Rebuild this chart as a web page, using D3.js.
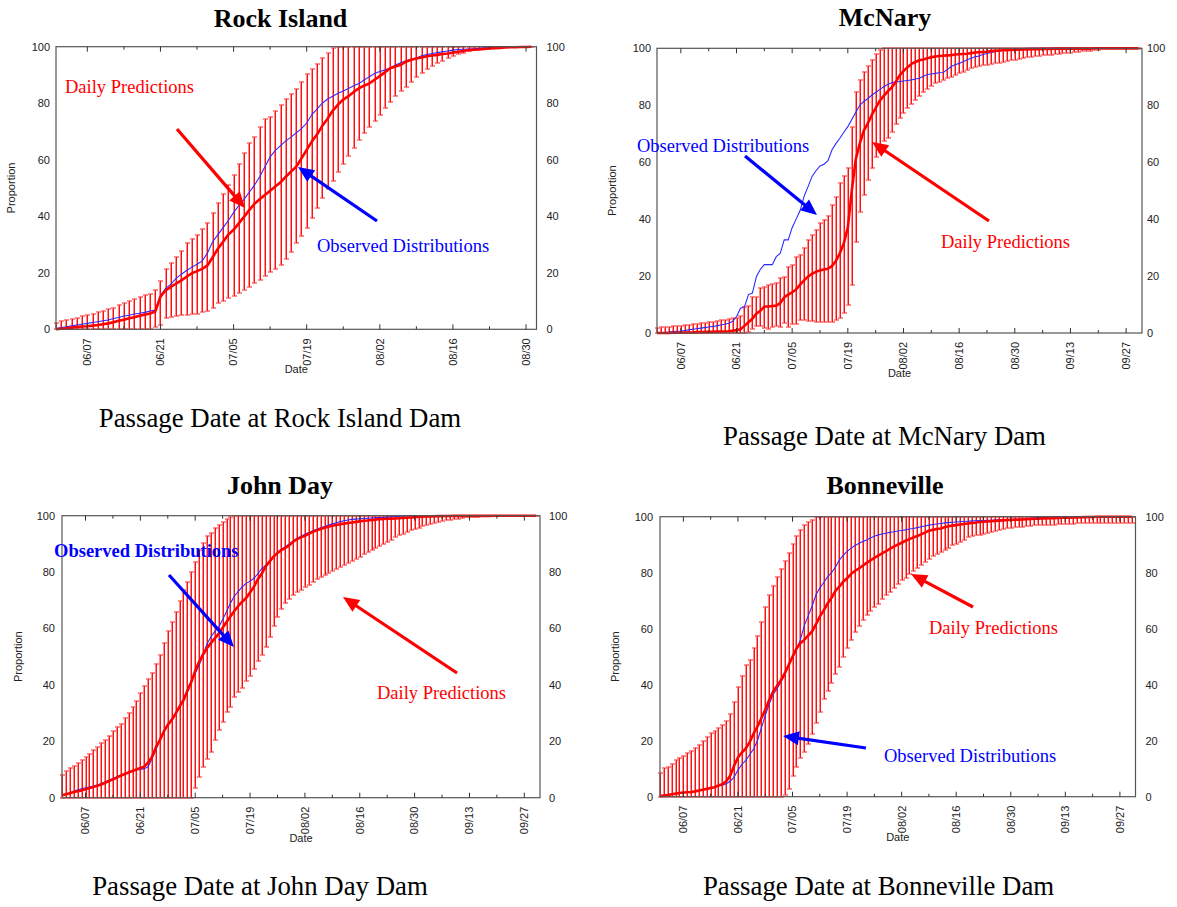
<!DOCTYPE html>
<html><head><meta charset="utf-8">
<script src="https://cdn.jsdelivr.net/npm/d3@7"></script>
<style>body{margin:0;background:#fff}svg{display:block}</style>
</head><body>
<svg id="c" width="1177" height="907"></svg>
<script>
// ---------------- DATA ----------------
const seasonStart = "2002-06-01";
const rockEnd = "2002-09-01";
const seasonEnd = "2002-10-01";
const rockTicks = ["06/07","06/21","07/05","07/19","08/02","08/16","08/30"];
const seasonTicks = ["06/07","06/21","07/05","07/19","08/02","08/16","08/30","09/13","09/27"];
const yTicks = [0,20,40,60,80,100];

// Rock Island (daily from 06/01)
const rockObs = [0.3,0.6,0.9,1.2,1.5,1.8,2.1,2.4,2.7,3,
 3.3,3.8,4.2,4.7,5,5.4,5.7,6,6.5,6.8,
 12,14.5,16,18,19.5,20.8,22,23,24.2,27,
 31,33.5,36,38.5,41.3,43.8,46,48.5,51,54,
 57.5,61,63.3,65,66.7,68,69.5,71,73,76,
 78,80,81.5,82.5,83.5,84.3,85.2,86.2,87,88.2,
 89.4,90.5,91.2,91.8,92.5,93.5,94.3,95,95.5,96,
 96.8,97.2,97.6,97.9,98.2,98.5,98.8,99,99.1,99.2,
 99.3,99.4,99.6,99.8,100,100,100,100,100,100,
 100,100];
const rockMean = [0,0.2,0.4,0.6,0.8,1,1.1,1.3,1.5,1.8,
 2.1,2.5,3,3.4,3.9,4.3,4.8,5.2,5.6,6.3,
 11.5,13.8,15,16.2,17.3,18.6,19.8,20.6,21.4,22.6,
 25.5,28.5,31,33.5,35.2,37.5,39.8,42.2,44.4,46,
 47.5,49,50.5,52,54,55.8,57.5,60.5,63.5,66.5,
 69,72,74.5,77.4,79.5,81.3,82.5,84,85.3,86.2,
 87,88.3,89.6,91,92.4,93,93.6,94.7,95.4,95.8,
 96.2,96.6,96.9,97.1,97.4,97.6,97.9,98.2,98.5,98.8,
 98.9,99,99.2,99.4,99.5,99.6,99.7,99.8,99.8,99.9,
 99.9,100];
const rockLo = [0,0,0,0,0,0,0,0,0,0,
 0,0,0,0,0,0,0,0,0,0.8,
 1.5,3.9,4.3,4.6,5,5.1,5.3,5.5,6,6.5,
 7.5,9.2,10.1,11,11.8,12.7,13.9,14.8,16.3,17.5,
 18.8,20.4,21.5,22.8,25,27.2,30.5,33,36,39.5,
 43,46.5,49.5,52.5,55.5,58.5,61.3,64,67,69.5,
 71.5,73.8,76,78.2,80.5,82.5,84.2,85.9,87.5,89.2,
 90.6,92,93.2,94.2,95.1,95.9,96.6,97.3,97.9,98.5,
 98.8,99.1,99.3,99.5,99.6,99.7,99.8,99.85,99.9,99.9,
 99.9,99.9];
const rockHi = [2.4,2.8,3.2,3.8,4.1,4.6,5,5.5,6,6.5,
 7.1,7.7,8.5,9.2,10,10.7,11.5,12,12.5,14,
 17.2,21.2,23.6,25.7,27.8,30.7,31.8,33.4,35.4,37.5,
 41.3,44.6,47.9,51.1,54.6,58.5,62.3,65.8,68.2,71.5,
 74.3,75.2,77.4,79.4,81.4,83.3,85,87.6,90.3,92,
 94,96,97.8,99.5,100,100,100,100,100,100,
 100,100,100,100,100,100,100,100,100,100,
 100,100,100,100,100,100,100,100,100,100,
 100,100,100,100,100,100,100,100,100,100,
 100,100];

// McNary
const mcObs = [0,0.1,0.2,0.3,0.5,0.6,0.7,0.9,1.1,1.3,
 1.5,1.7,1.9,2.1,2.3,2.5,2.8,3.1,3.4,4,
 5.7,8.7,9.2,13.5,14,19.8,22.4,24,24,24,
 26.8,28,32.7,32.7,37,40,43,48,51.4,55,
 57,58.7,59.3,60.5,64.3,66.5,68.4,70.5,72.5,75,
 77.5,80,81.3,82.3,83.5,84.5,85.5,86.5,87.3,87.9,
 88.2,88.3,88.5,88.7,88.9,89.2,89.5,90.2,90.8,91,
 91.2,91.4,91.5,92.5,93.6,94.2,94.7,95.3,96,96.5,
 97,97.3,97.8,98.2,98.5,98.8,99,99.2,99.4,99.6,
 99.7,99.8,99.9,100,100,100,100,100,100,100,
 100,100,100,100,100,100,100,100,100,100,
 100,100,100,100,100,100,100,100,100,100,100,100];
const mcMean = [0,0,0,0,0.1,0.1,0.1,0.2,0.2,0.2,
 0.3,0.3,0.3,0.4,0.4,0.5,0.5,0.5,0.6,0.8,
 1,1.3,2.5,3.8,5,6.8,7.8,9.3,9.3,9.5,
 9.6,10.5,12.5,13.5,14.3,15.3,17,18.5,19.8,20.8,
 21.5,22,22.3,22.6,23.5,25.3,28,31.5,37,50,
 61,66.5,71,73.5,76.5,79,81.5,83.2,84.8,86.2,
 88,90.4,92,93.3,94.5,95.2,95.8,96.1,96.5,96.9,
 97.1,97.3,97.4,97.5,97.6,97.8,97.9,98,98.1,98.3,
 98.5,98.6,98.7,98.8,99,99.1,99.2,99.3,99.3,99.4,
 99.5,99.5,99.6,99.6,99.7,99.7,99.7,99.8,99.8,99.8,
 99.9,99.9,99.9,99.9,99.9,99.9,99.9,99.9,99.9,99.9,
 100,100,100,100,100,100,100,100,100,100,100,100];
const mcLo = [0,0,0,0,0,0,0,0,0,0,
 0,0,0,0,0,0,0,0,0,0,
 0,0,0,0.5,1.5,2.5,2.6,1.9,1.4,2,
 2.5,2.2,3.4,2.2,3,3.2,4.6,4.5,4.3,4.2,
 4,3.9,3.8,3.7,3.7,4.5,5.2,6.9,9.8,16.9,
 32,42.6,48.5,53.7,57.8,61.9,63.5,67.5,68.5,70.7,
 73.5,75.4,77.3,79,80.5,82,83.4,84.6,85.8,86.8,
 87.7,88.3,88.9,89.5,90,90.6,91.2,91.8,92.4,93,
 93.3,93.7,94.1,94.3,94.5,94.7,95,95.3,95.5,95.8,
 96,96.3,96.5,96.8,97,97.2,97.4,97.6,97.7,97.8,
 98,98.1,98.2,98.4,98.5,98.7,98.8,98.9,99.1,99.2,
 99.3,99.5,99.6,99.7,99.8,99.9,99.9,99.9,99.9,99.9,99.9,99.9];
const mcHi = [1.9,2,2.1,2.2,2.3,2.4,2.5,2.7,2.9,3.1,
 3.2,3.4,3.6,3.8,4,4.2,4.4,4.6,4.8,5.1,
 5.4,6.1,9.3,9.4,12.8,12.8,15.7,16,16.9,17.2,
 17.5,19.2,19.6,23.1,23.8,26.8,27.4,29.7,32.7,34.4,
 36.2,38.8,39.7,41.2,45,47.9,52.6,55,57.8,72.5,
 84.8,88.9,91.5,93.8,95.9,97.9,99.5,100,100,100,
 100,100,100,100,100,100,100,100,100,100,
 100,100,100,100,100,100,100,100,100,100,
 100,100,100,100,100,100,100,100,100,100,
 100,100,100,100,100,100,100,100,100,100,
 100,100,100,100,100,100,100,100,100,100,
 100,100,100,100,100,100,100,100,100,100,100,100];

// John Day
const jdObs = [0.8,1.2,1.7,2.3,2.8,3.2,3.5,3.8,4.1,4.5,
 5,5.6,6.2,6.8,7.4,8,8.6,9.1,9.5,9.8,
 10,10.3,11,14,17,20.5,23.8,26,28,30,
 32.5,35,38.5,41.5,44,47,50.5,54.5,57,59,
 60.5,63.2,66,69,71.5,73.2,74.8,76,76.8,77.8,
 79.5,81.2,82.5,84,85.5,86.8,88,89,90,91,
 92,92.7,93.4,94,94.7,95.2,95.7,96.2,96.7,97.1,
 97.5,97.9,98.2,98.5,98.7,98.8,98.9,99,99.1,99.2,
 99.3,99.35,99.4,99.5,99.6,99.7,99.8,99.9,100,100,
 100,100,100,100,100,100,100,100,100,100,
 100,100,100,100,100,100,100,100,100,100,
 100,100,100,100,100,100,100,100,100,100,100,100];
const jdMean = [0.9,1.2,1.6,2,2.3,2.6,3,3.4,3.8,4.2,
 4.7,5.3,5.9,6.5,7.1,7.8,8.4,9,9.5,10,
 10.5,11,12.5,14.5,18,20.5,23.5,25.8,27.5,29.8,
 32.3,34.5,37.8,41,45,48.2,50.8,53,54.8,56.5,
 58.2,60.3,62.3,64.3,66.2,68,69.5,70.8,72.8,74.8,
 77.5,79.5,82,83.8,85.5,86.8,87.8,88.6,89.5,90.8,
 91.7,92.3,92.9,93.6,94.3,94.8,95.3,95.7,96.1,96.4,
 96.7,97,97.2,97.4,97.6,97.8,98,98.2,98.3,98.5,
 98.6,98.8,98.85,98.9,98.95,99,99.1,99.2,99.3,99.4,
 99.5,99.6,99.65,99.7,99.75,99.8,99.85,99.9,99.9,99.9,
 99.95,99.95,99.95,99.95,99.95,99.95,99.95,99.95,99.95,99.95,
 100,100,100,100,100,100,100,100,100,100,100,100];
const jdLo = [0,0,0,0,0,0,0,0,0,0,
 0,0,0,0,0,0,0,0,0,0,
 0,0,0,0,0,0,0,0,0,0,
 0,0,0,0,3.3,7.4,11,13.9,16.3,20.4,
 24,27,30.5,32.3,35.8,37.6,39,41.5,43,45.5,
 48.5,50.5,53.5,57.1,61,64,67,69,70.3,71.9,
 73,73.8,74.8,75.6,76.6,77.5,78.4,79,79.8,80.5,
 81.1,81.8,82.5,83.3,84,84.8,85.5,86.3,87.1,87.9,
 88.6,89.1,89.8,90.7,91.5,92.3,93,93.6,94.2,94.8,
 95.3,95.7,96.2,96.6,97,97.3,97.7,98,98.3,98.6,
 98.8,99,99.2,99.4,99.5,99.6,99.7,99.75,99.8,99.9,
 99.9,99.9,99.9,99.9,99.9,99.9,99.9,99.9,99.9,99.9,99.9,99.9];
const jdHi = [8,9.6,10.6,11.3,12.4,13.4,14.5,15.5,16.9,18.1,
 19.3,20.4,22,23.5,25,26,28.1,30.1,32.3,34.4,
 37.2,39.6,42,44.3,47.4,50.6,55,59.2,62.4,66,
 69.9,73.6,76.6,80.1,83.7,87.8,90.4,92.8,94,95.5,
 96.7,97.9,98.7,99.4,100,100,100,100,100,100,
 100,100,100,100,100,100,100,100,100,100,
 100,100,100,100,100,100,100,100,100,100,
 100,100,100,100,100,100,100,100,100,100,
 100,100,100,100,100,100,100,100,100,100,
 100,100,100,100,100,100,100,100,100,100,
 100,100,100,100,100,100,100,100,100,100,
 100,100,100,100,100,100,100,100,100,100,100,100];

// Bonneville
const bnObs = [0.1,0.3,0.5,0.8,1,1.2,1.4,1.6,1.7,1.9,
 2.2,2.5,2.8,3.1,3.4,3.8,4.1,4.6,5.5,7,
 9.5,11.5,13,15,17,20,24.5,29,33,36.5,
 38.5,41,43.5,47,49.5,52.5,56,61,64.5,68,
 72,74.5,76.5,78.5,80,82,84.5,86.2,87.6,88.7,
 89.7,90.4,91.1,91.7,92.4,93,93.5,93.8,94.1,94.4,
 94.6,94.9,95.1,95.3,95.6,95.8,96.1,96.4,96.7,97,
 97.2,97.4,97.6,97.8,97.9,98,98.1,98.2,98.3,98.4,
 98.5,98.55,98.6,98.65,98.7,98.75,98.8,98.85,98.9,98.95,
 99,99.05,99.1,99.2,99.3,99.4,99.5,99.6,99.7,99.75,
 99.8,99.9,100,100,100,100,100,100,100,100,
 100,100,100,100,100,100,100,100,100,100,100,100];
const bnMean = [0.2,0.4,0.6,0.9,1.1,1.3,1.5,1.6,1.7,1.9,
 2.2,2.5,2.8,3.1,3.4,4,4.5,5.5,7.5,11,
 14,15.8,17.2,19.5,22.5,25,28,31,34.5,37.5,
 39.5,41.5,44,47,50,52.8,54.8,56,57.5,59,
 61.5,64.3,66.5,69,71,73.5,75,76.8,78,79.5,
 80.6,81.5,82.5,83.5,84.4,85.3,86.1,86.9,87.7,88.5,
 89.3,90,90.7,91.4,92,92.6,93.1,93.7,94.3,95,
 95.3,95.6,95.8,96.2,96.6,96.8,97,97.2,97.4,97.6,
 97.8,97.9,98.1,98.2,98.3,98.4,98.5,98.6,98.7,98.8,
 98.85,98.9,98.95,99,99.1,99.2,99.25,99.3,99.35,99.4,
 99.45,99.5,99.55,99.6,99.6,99.65,99.7,99.75,99.8,99.85,
 99.9,99.9,100,100,100,100,100,100,100,100,100,100];
const bnLo = [0,0,0,0,0,0,0,0,0,0,
 0,0,0,0,0,0,0,0,0,0,
 0,0,0,0,0,0,0,0,0,0,
 0,0,0.5,2.8,7.4,10.7,14,16.1,19,22.4,
 26.2,30.4,34.8,37.9,40.7,44,46.5,50,53,56,
 58.9,61,63.1,64.9,66.5,67.8,69,70.5,72,73.2,
 74.6,76,77.3,78.2,79.5,80.6,81.8,82.9,84,85,
 85.9,86.8,87.5,88.1,89,89.8,90.4,90.8,91.6,92.6,
 93,93.3,93.6,93.8,94.2,94.6,94.9,95.2,95.5,95.8,
 96,96.2,96.3,96.4,96.6,96.8,96.9,96.9,97,97,
 97.1,97.2,97.3,97.3,97.4,97.5,97.5,97.6,97.6,97.6,
 97.6,97.6,97.6,97.6,97.6,97.6,97.6,97.6,97.6,97.6,97.6,97.6];
const bnHi = [8.3,10.1,10.7,11.7,13.1,13.7,14.5,15.5,16.4,17.5,
 18.5,20,21.4,22.6,23.5,24.6,25.6,27.1,29.5,33.9,
 39.3,43.1,47,49,53.2,57.4,62.5,67.6,72,75.2,
 78.6,81.2,84.3,87.1,90.2,93.1,95.2,97,98.2,99,
 99.8,100,100,100,100,100,100,100,100,100,
 100,100,100,100,100,100,100,100,100,100,
 100,100,100,100,100,100,100,100,100,100,
 100,100,100,100,100,100,100,100,100,100,
 100,100,100,100,100,100,100,100,100,100,
 100,100,100,100,100,100,100,100,100,100,
 100,100,100,100,100,100,100,100,100,100,
 100,100,100,100,100,100,100,100,100,100,100,100];

// ---------------- LAYOUT ----------------
const SERIF = "'Liberation Serif','Times New Roman',serif";
const SANS = "'Liberation Sans',Arial,Helvetica,sans-serif";
const RED = "#ff0000", BLUE = "#0000ff";

const panels = [
 {title:"Rock Island", sub:"Passage Date at Rock Island Dam", end:rockEnd, ticks:rockTicks,
  obs:rockObs, mean:rockMean, lo:rockLo, hi:rockHi,
  box:{l:56,r:536.5,t:46.7,b:329.3}, titleX:280.5, titleY:27, subX:280, subY:427, rOff:10, lOff:6, propX:11.5,
  notes:[{t:"Daily Predictions",c:RED,x:65,y:93},{t:"Observed Distributions",c:BLUE,x:317,y:252}],
  arrows:[{c:RED,x1:177,y1:129,x2:245,y2:208},{c:BLUE,x1:377,y1:221,x2:298,y2:167}]},
 {title:"McNary", sub:"Passage Date at McNary Dam", end:seasonEnd, ticks:seasonTicks,
  obs:mcObs, mean:mcMean, lo:mcLo, hi:mcHi,
  box:{l:657,r:1142,t:48.3,b:333}, titleX:885, titleY:26, subX:884.5, subY:445, rOff:5, lOff:6, propX:612.5,
  notes:[{t:"Observed Distributions",c:BLUE,x:637,y:152},{t:"Daily Predictions",c:RED,x:941,y:248}],
  arrows:[{c:BLUE,x1:745,y1:156,x2:817,y2:215},{c:RED,x1:989,y1:221,x2:872,y2:142}]},
 {title:"John Day", sub:"Passage Date at John Day Dam", end:seasonEnd, ticks:seasonTicks,
  obs:jdObs, mean:jdMean, lo:jdLo, hi:jdHi,
  box:{l:62,r:540,t:515.7,b:797.7}, titleX:280, titleY:494, subX:260, subY:895, rOff:9, lOff:7, propX:18,
  notes:[{t:"Observed Distributions",c:BLUE,x:54,y:557,bold:true},{t:"Daily Predictions",c:RED,x:377,y:699}],
  arrows:[{c:BLUE,x1:169,y1:575,x2:234,y2:647},{c:RED,x1:457,y1:673,x2:343,y2:597}]},
 {title:"Bonneville", sub:"Passage Date at Bonneville Dam", end:seasonEnd, ticks:seasonTicks,
  obs:bnObs, mean:bnMean, lo:bnLo, hi:bnHi,
  box:{l:660,r:1135.5,t:516.7,b:796.7}, titleX:885, titleY:494, subX:878.5, subY:895, rOff:10, lOff:7, propX:615,
  notes:[{t:"Daily Predictions",c:RED,x:929,y:634},{t:"Observed Distributions",c:BLUE,x:884,y:762}],
  arrows:[{c:RED,x1:973,y1:607,x2:911,y2:574},{c:BLUE,x1:866,y1:748,x2:783,y2:736}]}
];

const svg = d3.select("#c");
const parseDay = d3.timeParse("%Y-%m-%d");
const start = parseDay(seasonStart);
const year = start.getFullYear();
const parseTick = d3.timeParse("%Y/%m/%d");

function arrow(g, a){
  const dx=a.x2-a.x1, dy=a.y2-a.y1, L=Math.hypot(dx,dy), ux=dx/L, uy=dy/L;
  const hl=16, hw=7;
  const bx=a.x2-ux*hl, by=a.y2-uy*hl;
  g.append("line").attr("x1",a.x1).attr("y1",a.y1).attr("x2",bx+ux*3).attr("y2",by+uy*3)
    .attr("stroke",a.c).attr("stroke-width",3.2);
  g.append("path").attr("d",`M${a.x2},${a.y2}L${bx-uy*hw},${by+ux*hw}L${bx+uy*hw},${by-ux*hw}Z`).attr("fill",a.c);
}

panels.forEach(p => {
  const B = p.box;
  const g = svg.append("g");
  const x = d3.scaleTime().domain([start, parseDay(p.end)]).range([B.l, B.r]);
  const y = d3.scaleLinear().domain([0,100]).range([B.b, B.t]);
  const days = p.mean.map((_,i) => d3.timeDay.offset(start, i));

  // error bars: pink halo + red core (two-pixel look)
  const halo = g.append("g").attr("stroke", "#ff8c8c").attr("stroke-width", 2)
    .attr("fill","none").attr("shape-rendering","crispEdges");
  const core = g.append("g").attr("stroke", "#ff1010").attr("stroke-width", 1)
    .attr("fill","none").attr("shape-rendering","crispEdges");
  days.forEach((d,i) => {
    const xi = Math.round(x(d));
    const y1 = Math.round(y(p.lo[i])), y2 = Math.round(y(p.hi[i]));
    halo.append("line").attr("x1",xi).attr("x2",xi).attr("y1",y1).attr("y2",y2);
    halo.append("line").attr("x1",xi-2).attr("x2",xi+3).attr("y1",y1).attr("y2",y1);
    halo.append("line").attr("x1",xi-2).attr("x2",xi+3).attr("y1",y2).attr("y2",y2);
    core.append("line").attr("x1",xi+0.5).attr("x2",xi+0.5).attr("y1",y1).attr("y2",y2);
  });

  // observed
  const line = d3.line().x((v,i)=>x(days[i])).y(v=>y(v));
  g.append("path").datum(p.obs).attr("d", line).attr("fill","none")
    .attr("stroke","#2a2aff").attr("stroke-width",1.1);
  // mean predictions
  g.append("path").datum(p.mean).attr("d", line).attr("fill","none")
    .attr("stroke",RED).attr("stroke-width",2.6).attr("stroke-linejoin","round");

  // frame
  g.append("rect").attr("x",B.l).attr("y",B.t).attr("width",B.r-B.l).attr("height",B.b-B.t)
    .attr("fill","none").attr("stroke","#555").attr("stroke-width",1.2);

  // x ticks
  const major = p.ticks.map(t => parseTick(year + "/" + t));
  const minor = major.slice(0,-1).map(d => d3.timeDay.offset(d, 7));
  const tk = g.append("g").attr("stroke","#333").attr("stroke-width",1);
  major.forEach(d => {
    const xx = x(d);
    tk.append("line").attr("x1",xx).attr("x2",xx).attr("y1",B.b).attr("y2",B.b-5);
    tk.append("line").attr("x1",xx).attr("x2",xx).attr("y1",B.t).attr("y2",B.t+5);
  });
  minor.forEach(d => {
    const xx = x(d);
    tk.append("line").attr("x1",xx).attr("x2",xx).attr("y1",B.b).attr("y2",B.b-3);
    tk.append("line").attr("x1",xx).attr("x2",xx).attr("y1",B.t).attr("y2",B.t+3);
  });
  const fmt = d3.timeFormat("%m/%d");
  major.forEach(d => {
    g.append("text").attr("transform",`translate(${x(d)},${B.b+9}) rotate(-90)`)
      .attr("text-anchor","end").attr("dy","0.35em")
      .attr("font-family",SANS).attr("font-size",11).attr("fill","#222").text(fmt(d));
  });

  // y tick labels both sides
  yTicks.forEach(v => {
    g.append("text").attr("x",B.l-p.lOff).attr("y",y(v)).attr("dy","0.35em").attr("text-anchor","end")
      .attr("font-family",SANS).attr("font-size",11).attr("fill","#222").text(v);
    g.append("text").attr("x",B.r+p.rOff).attr("y",y(v)).attr("dy","0.35em").attr("text-anchor","start")
      .attr("font-family",SANS).attr("font-size",11).attr("fill","#222").text(v);
  });

  // axis titles
  g.append("text").attr("transform",`translate(${p.propX},${(B.t+B.b)/2}) rotate(-90)`)
    .attr("text-anchor","middle").attr("dy","0.35em").attr("font-family",SANS).attr("font-size",11)
    .attr("fill","#222").text("Proportion");
  g.append("text").attr("x",(B.l+B.r)/2).attr("y",B.b+44).attr("text-anchor","middle")
    .attr("font-family",SANS).attr("font-size",11).attr("fill","#222").text("Date");

  // title and subtitle
  g.append("text").attr("x",p.titleX).attr("y",p.titleY).attr("text-anchor","middle")
    .attr("font-family",SERIF).attr("font-weight","bold").attr("font-size",26).attr("fill","#000").text(p.title);
  g.append("text").attr("x",p.subX).attr("y",p.subY).attr("text-anchor","middle")
    .attr("font-family",SERIF).attr("font-size",26.8).attr("fill","#000").text(p.sub);

  // annotations
  p.notes.forEach(n => {
    g.append("text").attr("x",n.x).attr("y",n.y).attr("font-family",SERIF).attr("font-size",18.5)
      .attr("font-weight", n.bold ? "bold" : "normal").attr("fill",n.c).text(n.t);
  });
  p.arrows.forEach(a => arrow(g, a));
});
</script>
</body></html>
